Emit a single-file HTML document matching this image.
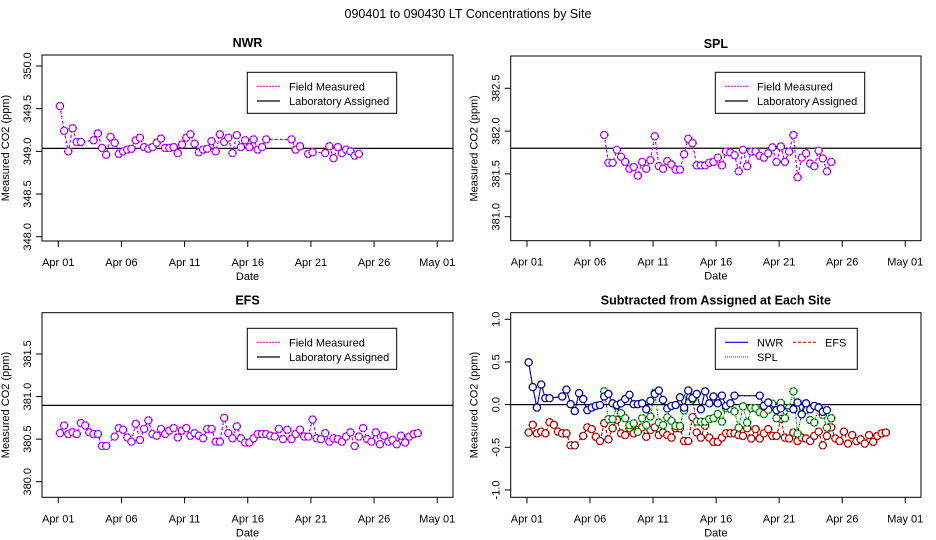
<!DOCTYPE html>
<html><head><meta charset="utf-8"><style>
body{margin:0;background:#fff}
svg{display:block;font-family:"Liberation Sans",Arial,sans-serif}
</style></head><body>
<svg id="c" width="936" height="540" viewBox="0 0 936 540">
<text x="468" y="18" text-anchor="middle" font-size="12.5">090401  to  090430 LT Concentrations by Site</text>
</svg>
<script>
// slot k corresponds to day k/3 + 0.13 after Apr 01
const slotDays=[0.13,0.46,0.79,1.13,1.46,1.79,2.13,2.46,2.79,3.13,3.46,3.79,4.13,4.46,4.79,5.13,5.46,5.79,6.13,6.46,6.79,7.13,7.46,7.79,8.13,8.46,8.79,9.13,9.46,9.79,10.13,10.46,10.79,11.13,11.46,11.79,12.13,12.46,12.79,13.13,13.46,13.79,14.13,14.46,14.79,15.13,15.46,15.79,16.13,16.46,16.79,17.13,17.46,17.79,18.13,18.46,18.79,19.13,19.46,19.79,20.13,20.46,20.79,21.13,21.46,21.79,22.13,22.46,22.79,23.13,23.46,23.79,24.13,24.46,24.79,25.13,25.46,25.79,26.13,26.46,26.79,27.13,27.46,27.79,28.13,28.46];
const N=null;
const nwrValues=[349.53,349.24,349.00,349.27,349.11,349.11,N,N,349.13,349.21,349.04,348.96,349.17,349.10,348.97,349.00,349.02,349.03,349.13,349.16,349.05,349.03,349.05,349.10,349.15,349.04,349.04,349.05,348.98,349.08,349.16,349.20,349.09,348.99,349.02,349.03,349.12,349.00,349.20,349.11,349.16,348.98,349.19,349.05,349.13,349.05,349.14,349.02,349.05,349.14,N,N,N,N,N,349.14,349.02,349.06,N,348.97,348.99,N,N,348.98,349.06,348.92,349.05,348.98,349.02,349.00,348.95,348.97];
const splValues=[N,N,N,N,N,N,N,N,N,N,N,N,N,N,N,N,N,N,381.955,381.63,381.63,381.78,381.70,381.64,381.56,381.58,381.48,381.64,381.56,381.66,381.94,381.59,381.56,381.65,381.61,381.55,381.55,381.73,381.91,381.86,381.60,381.60,381.60,381.63,381.64,381.69,381.60,381.76,381.75,381.72,381.53,381.78,381.59,381.76,381.76,381.71,381.69,381.74,381.81,381.64,381.82,381.64,381.76,381.955,381.46,381.69,381.74,381.62,381.59,381.77,381.68,381.53,381.64];
const efsValues=[380.57,380.66,380.56,380.58,380.56,380.69,380.66,380.58,380.56,380.56,380.42,380.42,N,380.53,380.63,380.61,380.52,380.47,380.68,380.49,380.62,380.72,380.56,380.54,380.62,380.56,380.60,380.63,380.52,380.60,380.63,380.54,380.57,380.54,380.51,380.62,380.62,380.47,380.47,380.75,380.57,380.51,380.65,380.51,380.46,380.46,380.51,380.56,380.56,380.56,380.54,380.53,380.62,380.50,380.61,380.50,380.56,380.61,380.53,380.53,380.73,380.51,380.50,380.57,380.47,380.51,380.50,380.47,380.53,380.58,380.42,380.53,380.63,380.50,380.47,380.58,380.44,380.54,380.47,380.49,380.44,380.54,380.46,380.53,380.56,380.57];
const nwrAssigned=349.035, splAssigned=381.80, efsAssigned=380.897;
const xTickDays=[0,5,10,15,20,25,30];
const xTickLabels=["Apr 01","Apr 06","Apr 11","Apr 16","Apr 21","Apr 26","May 01"];
const nwrTicks=[348.0,348.5,349.0,349.5,350.0];
const splTicks=[381.0,381.5,382.0,382.5];
const efsTicks=[380.0,380.5,381.0,381.5];
const diffTicks=[-1.0,-0.5,0.0,0.5,1.0];

const NS="http://www.w3.org/2000/svg";
const svg=document.getElementById('c');
function mk(tag,attrs,parent){const e=document.createElementNS(NS,tag);for(const k in attrs)e.setAttribute(k,attrs[k]);(parent||svg).appendChild(e);return e;}

function panel(o){
  const g=mk('g',{});
  
  
  const x=d=>o.L+(d-o.d0)/(o.d1-o.d0)*(o.R-o.L);
  const y=v=>o.B-(v-o.v0)/(o.v1-o.v0)*(o.B-o.T);
  const t=mk('text',{x:(o.L+o.R)/2,y:o.T-8,'text-anchor':'middle','font-size':12.5,'font-weight':'bold'},g);t.textContent=o.title;
  
  
  const box=mk('rect',{x:o.L,y:o.T,width:o.R-o.L,height:o.B-o.T,fill:'none',stroke:'#000','stroke-width':1},g);
  
  
  const xa=mk('g',{},g);
  
  
  xTickDays.forEach((d,i)=>{
    mk('line',{x1:x(d),x2:x(d),y1:o.B,y2:o.B+6,stroke:'#000'},xa);
    const tl=mk('text',{x:x(d),y:o.B+25,'text-anchor':'middle','font-size':11},xa);tl.textContent=xTickLabels[i];
    
    
  });
  const dl=mk('text',{x:(o.L+o.R)/2,y:o.B+39,'text-anchor':'middle','font-size':11},g);dl.textContent='Date';
  
  
  const ya=mk('g',{},g);
  
  
  o.ticks.forEach(v=>{
    mk('line',{x1:o.L-6,x2:o.L,y1:y(v),y2:y(v),stroke:'#000'},ya);
    const tl=mk('text',{x:o.L-11,y:y(v),'text-anchor':'middle','font-size':11,transform:`rotate(-90 ${o.L-11} ${y(v)})`},ya);tl.textContent=v.toFixed(1);
    
    
  });
  const yt=mk('text',{x:o.L-33,y:(o.T+o.B)/2,'text-anchor':'middle','font-size':11,transform:`rotate(-90 ${o.L-33} ${(o.T+o.B)/2})`},g);
  yt.textContent='Measured CO2 (ppm)';
  
  
  const ref=mk('line',{x1:o.L,x2:o.R,y1:y(o.ref),y2:y(o.ref),stroke:'#000','stroke-width':1.2},g);
  
  
  o.series.forEach(s=>{
    const sg=mk('g',{},g);
    
    
    let pts=[];
    s.vals.forEach((v,k)=>{if(v!==null)pts.push([x(slotDays[k]),y(v)]);});
    const dstr=pts.map((p,i)=>(i?'L':'M')+p[0].toFixed(1)+' '+p[1].toFixed(1)).join('');
    mk('path',{d:dstr,fill:'none',stroke:s.c1,'stroke-width':1.1,'stroke-dasharray':s.dash},sg);
    mk('path',{d:dstr,fill:'none',stroke:s.c2,'stroke-width':1.1,'stroke-dasharray':'1 4'},sg);
    pts.forEach(p=>{
      const c=mk('circle',{cx:p[0],cy:p[1],r:3.6,fill:'#fff',stroke:s.c1,'stroke-width':1.2},sg);
      
      
      mk('circle',{cx:p[0],cy:p[1],r:3.6,fill:'none',stroke:s.c2,'stroke-width':1.2,'stroke-dasharray':'1 2.5'},sg);
    });
  });
  const lg=mk('g',{},g);
  
  
  const lb=o.legend;
  mk('rect',{x:lb.x,y:lb.y,width:lb.w,height:41,fill:'#fff',stroke:'#000'},lg);
  lb.items.forEach(it=>{
    const ly=lb.y+it.row*14.7+14;
    mk('line',{x1:it.x,x2:it.x+23,y1:ly,y2:ly,stroke:it.c,'stroke-width':1.2,'stroke-dasharray':it.dash||''},lg);
    const tx=mk('text',{x:it.x+32,y:ly+4,'font-size':11},lg);tx.textContent=it.label;
    
    
  });
}
const leftBox={L:42,R:453,d0:-1.29,d1:31.25};
const rightBox={L:510.7,R:921,d0:-1.29,d1:31.25};
const fm=(x)=>({row:0,x:x,c:'#ff00ff',dash:'2 1',label:'Field Measured'});
const la=(x)=>({row:1,x:x,c:'#000',label:'Laboratory Assigned'});
panel(Object.assign({},leftBox,{name:'nwr',title:'NWR',T:55,B:241,v0:347.95,v1:350.129,ticks:nwrTicks,ref:nwrAssigned,
  series:[{name:'nwr',vals:nwrValues,c1:'#ff00ff',c2:'#0000ff',dash:'3 2'}],
  legend:{x:247.3,y:72.3,w:149.4,items:[fm(257),la(257)]}}));
panel(Object.assign({},rightBox,{name:'spl',title:'SPL',T:56,B:240.7,v0:380.72,v1:382.877,ticks:splTicks,ref:splAssigned,
  series:[{name:'spl',vals:splValues,c1:'#ff00ff',c2:'#0000ff',dash:'3 2'}],
  legend:{x:715.3,y:72.3,w:149.4,items:[fm(725),la(725)]}}));
panel(Object.assign({},leftBox,{name:'efs',title:'EFS',T:312.7,B:497.3,v0:379.817,v1:381.985,ticks:efsTicks,ref:efsAssigned,
  series:[{name:'efs',vals:efsValues,c1:'#ff00ff',c2:'#0000ff',dash:'3 2'}],
  legend:{x:247.3,y:328.3,w:149.4,items:[fm(257),la(257)]}}));
const sub=(arr,a)=>arr.map(v=>v===null?null:v-a);
panel(Object.assign({},rightBox,{name:'diff',title:'Subtracted from Assigned at Each Site',T:312.7,B:497.3,v0:-1.086,v1:1.077,ticks:diffTicks,ref:0,
  series:[
    {name:'efs-diff',vals:sub(efsValues,efsAssigned),c1:'#ff0000',c2:'#000',dash:'3 2'},
    {name:'spl-diff',vals:sub(splValues,splAssigned),c1:'#00bb00',c2:'#000',dash:'1 1'},
    {name:'nwr-diff',vals:sub(nwrValues,nwrAssigned),c1:'#0000dd',c2:'#000',dash:''}],
  legend:{x:715.3,y:328.3,w:142,items:[
    {row:0,x:725,c:'#0000ff',label:'NWR'},
    {row:0,x:793,c:'#ff0000',dash:'3 2',label:'EFS'},
    {row:1,x:725,c:'#00aa00',dash:'1 1',label:'SPL'}]}}));
</script>
</body></html>
